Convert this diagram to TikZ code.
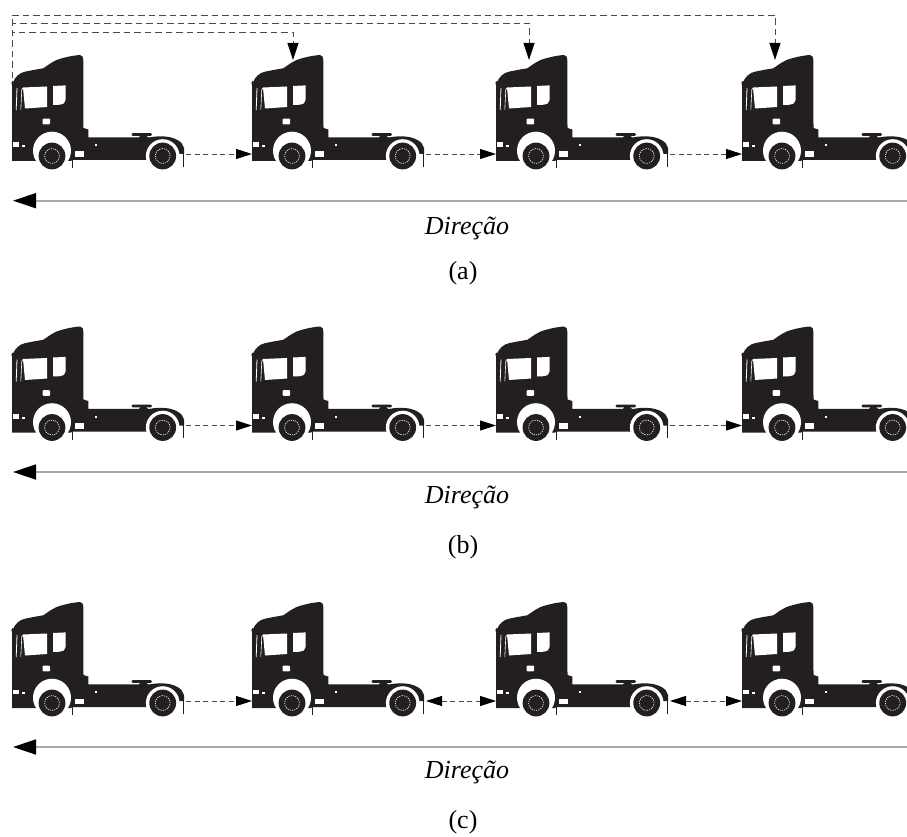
\documentclass[tikz,border=0pt]{standalone}
\usepackage{fontspec}
\setmainfont{Liberation Serif}
\usetikzlibrary{arrows.meta}
\definecolor{ink}{HTML}{231F20}
\definecolor{dirline}{HTML}{A8A8A8}
\definecolor{linkgray}{HTML}{4A4A4A}

\tikzset{
  x=1pt, y=1pt,
  % tractor unit silhouette, origin at the lower front corner of the cab
  truck/.pic={
    \fill[ink] (0,0) -- (0,76) -- (-0.6,78) -- (0.4,80) -- (1.3,79.3)
      .. controls (3,84) and (8,88.5) .. (13,89.3) -- (21.3,91) -- (31.3,92.7)
      .. controls (35,95) and (38,98) .. (44.7,101)
      .. controls (50,103) and (60,105.5) .. (68,106) -- (70.7,104.3)
      -- (71.3,101) -- (71.5,33) -- (76.3,31.5) -- (76.3,23.7) -- (138,23.7)
      .. controls (148,25.5) and (162,25.5) .. (169.5,18) -- (172,13)
      -- (172,7) -- (150,7) -- (150,1) -- (60,1) -- (59,0) -- cycle;
    % wheel arches
    \fill[white] (40,10.3) circle (19);
    \fill[white] (150.7,5) circle (16.8);
    % fifth wheel
    \fill[ink, rounded corners=1.2] (119.5,25.2) rectangle (140,27.9);
    \fill[ink] (126.5,23) -- (128.5,25.6) -- (134,25.6) -- (136.5,23) -- cycle;
    % mud flaps
    \draw[ink, line width=0.8pt] (171.5,8) -- (171.5,-5.7);
    \draw[ink, line width=0.8pt] (60.5,2) -- (60.5,-7);
    % tyres and hubs
    \foreach \wx in {40,150.7}{
      \fill[ink] (\wx,5) circle (13.4);
      \draw[white, line width=0.6pt, dash pattern=on 1.3pt off 1pt] (\wx,5) circle (7.4);
    }
    % windows, pillar, handle, lamps
    \fill[white] (11,73.5) -- (35,74.5) -- (35,54) -- (13,52.5) -- cycle;
    \fill[white] (41,56) -- (41,75) -- (53.5,75.6) -- (53.5,61)
      .. controls (53.5,58) and (51,56.5) .. (48,56.3) -- cycle;
    \draw[white, line width=0.8pt] (4.2,51) -- (5,73);
    \draw[white, line width=0.6pt] (8.8,51) -- (9.8,71.5) -- (11,73);
    \fill[white, rounded corners=0.8] (30.7,36.7) rectangle (38,42.3);
    \fill[white] (0.8,14) rectangle (6.5,18.5);
    \fill[white] (10,14) rectangle (12.5,15.6);
    \fill[white] (63,4) rectangle (71.5,9.5);
    \fill[white] (82.5,15) rectangle (85,16.6);
    % anchor points for the links
    \coordinate (-front) at (0,7);
    \coordinate (-rear) at (174,7);
  },
  link/.style={linkgray, line width=0.9pt, dash pattern=on 5pt off 3.5pt,
    -{Triangle[length=16pt, width=10pt, color=black]}},
  bilink/.style={link, {Triangle[length=16pt, width=10pt, color=black]}-{Triangle[length=16pt, width=10pt, color=black]}},
  toplink/.style={linkgray, line width=0.9pt, dash pattern=on 6.5pt off 4pt,
    -{Triangle[length=17pt, width=11pt, color=black]}},
  heading/.style={dirline, line width=1.8pt,
    -{Triangle[length=23pt, width=15pt, color=black]}},
  dirlabel/.style={font=\fontsize{26}{30}\selectfont\itshape, inner sep=0pt},
  caption/.style={font=\fontsize{26}{30}\selectfont, inner sep=0pt}
}

\begin{document}
\begin{tikzpicture}
\useasboundingbox (0,0) rectangle (907,-837);

% broadcast links from the leader (row a), drawn beneath the trucks
\coordinate (o2) at (12.5,-110);
\coordinate (o3) at (12.5,-110);
\coordinate (o4) at (12.5,-110);
\coordinate (k2) at (12.5,-32);
\coordinate (k3) at (12.5,-23);
\coordinate (k4) at (12.5,-15);
\coordinate (r2) at (293,-60);
\coordinate (r3) at (529,-60);
\coordinate (r4) at (775,-60);
\draw[toplink] (o2) -- (k2) -| (r2);
\draw[toplink] (o3) -- (k3) -| (r3);
\draw[toplink] (o4) -- (k4) -| (r4);

% three platoons of four trucks
\foreach \r/\dy in {a/0, b/271.5, c/547}{
  \foreach \i/\dx in {1/0, 2/240, 3/484, 4/730}{
    \pic (\r\i) at (12+\dx, -161-\dy) {truck};
  }
}

% predecessor links
\foreach \r in {a,b,c}{
  \draw[link] (\r1-rear) -- (\r2-front);
}
\draw[link] (a2-rear) -- (a3-front);
\draw[link] (a3-rear) -- (a4-front);
\draw[link] (b2-rear) -- (b3-front);
\draw[link] (b3-rear) -- (b4-front);
\draw[bilink] (c2-rear) -- (c3-front);
\draw[bilink] (c3-rear) -- (c4-front);

% direction of travel and captions
\coordinate (ha0) at (907,-200.7);
\coordinate (ha1) at (13,-200.7);
\coordinate (hb0) at (907,-472);
\coordinate (hb1) at (13,-472);
\coordinate (hc0) at (907,-747);
\coordinate (hc1) at (13,-747);
\draw[heading] (ha0) -- (ha1);
\draw[heading] (hb0) -- (hb1);
\draw[heading] (hc0) -- (hc1);

\node[dirlabel] (da) at (467,-228) {Direção};
\node[dirlabel] (db) at (467,-497) {Direção};
\node[dirlabel] (dc) at (467,-772) {Direção};
\node[caption] (ca) at (463,-273) {(a)};
\node[caption] (cb) at (463,-547) {(b)};
\node[caption] (cc) at (463,-822) {(c)};
\end{tikzpicture}
\end{document}
